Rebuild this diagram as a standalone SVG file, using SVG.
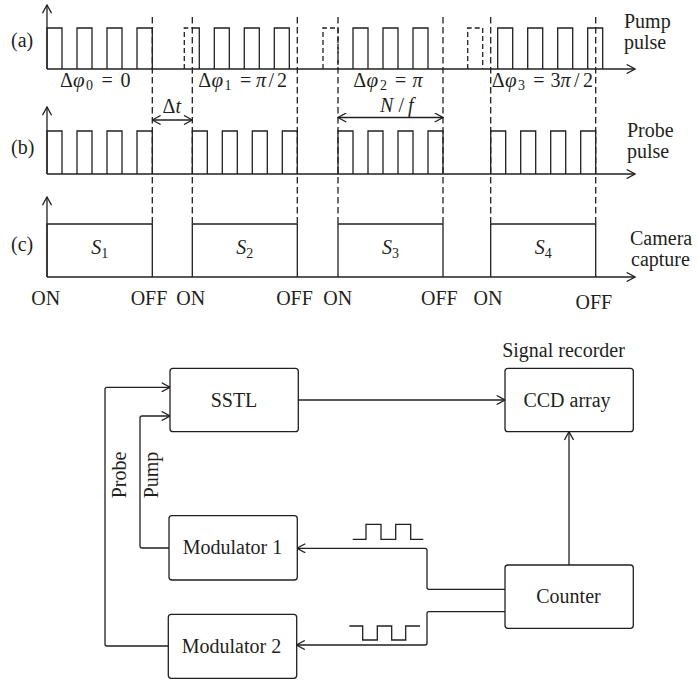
<svg xmlns="http://www.w3.org/2000/svg" width="698" height="682" viewBox="0 0 698 682">
<defs>
<style>
.ln{fill:none;stroke:#231f20;stroke-width:1.3}
.ds{fill:none;stroke:#231f20;stroke-width:1.3;stroke-dasharray:6.5 3.5}
.bx{fill:#fff;stroke:#231f20;stroke-width:1.3}
text{font-family:"Liberation Serif","DejaVu Serif",serif;font-size:20px;fill:#231f20}
.c{text-anchor:middle}
.i{font-style:italic}
.sub{font-size:14px}
.phi{font-style:italic;font-size:21px}
</style>
<marker id="arr" viewBox="0 0 10 10" refX="9.3" refY="5" markerWidth="10" markerHeight="10" orient="auto-start-reverse" markerUnits="userSpaceOnUse">
<path d="M1,0.5 L9.3,5 L1,9.5" fill="none" stroke="#231f20" stroke-width="1.3"/>
</marker>
</defs>
<rect width="698" height="682" fill="#fff"/>

<g id="timing">
<!-- axes -->
<path class="ln" d="M47,69 V5" marker-end="url(#arr)"/>
<path class="ln" d="M47,69 H635" marker-end="url(#arr)"/>
<path class="ln" d="M47,174 V107" marker-end="url(#arr)"/>
<path class="ln" d="M47,174 H635" marker-end="url(#arr)"/>
<path class="ln" d="M47,277 V197" marker-end="url(#arr)"/>
<path class="ln" d="M47,277 H635" marker-end="url(#arr)"/>

<!-- window dashed lines -->
<path class="ds" d="M152.3,17 V224 M192.3,17 V224 M297.3,17 V224 M338,17 V224 M443,17 V224 M490.7,17 V224 M595.7,17 V224"/>

<!-- pump pulses (a) -->
<path class="ln" d="M47,69 V28 H62 V69 M77,69 V28 H92 V69 M107,69 V28 H122 V69 M137,69 V28 H152.3 V69
M192.3,28 H199.3 V69 M214.3,69 V28 H229.3 V69 M244.3,69 V28 H259.3 V69 M274.3,69 V28 H289.3 V69
M353,69 V28 H368 V69 M383,69 V28 H398 V69 M413,69 V28 H428 V69
M497.7,69 V28 H512.7 V69 M527.7,69 V28 H542.7 V69 M557.7,69 V28 H572.7 V69 M587.7,69 V28 H602.7 V69"/>
<path class="ds" d="M184.3,69 V28 H192.3 M323,69 V28 H338 V69 M467.7,69 V28 H482.7 V69" style="stroke-dasharray:5 3"/>

<!-- probe pulses (b) -->
<path class="ln" d="M47,174 V131 H62 V174 M77,174 V131 H92 V174 M107,174 V131 H122 V174 M137,174 V131 H152.3 V174
M192.3,174 V131 H207.3 V174 M222.3,174 V131 H237.3 V174 M252.3,174 V131 H267.3 V174 M282.3,174 V131 H297.3 V174
M338,174 V131 H353 V174 M368,174 V131 H383 V174 M398,174 V131 H413 V174 M428,174 V131 H443 V174
M490.7,174 V131 H505.7 V174 M520.7,174 V131 H535.7 V174 M550.7,174 V131 H565.7 V174 M580.7,174 V131 H595.7 V174"/>

<!-- camera capture (c) -->
<path class="ln" d="M47,277 V224 H152.3 V277 M192.3,277 V224 H297.3 V277 M338,277 V224 H443 V277 M490.7,277 V224 H595.7 V277"/>

<!-- arrows dt, N/f -->
<path class="ln" d="M152.3,120 H192.3" marker-start="url(#arr)" marker-end="url(#arr)"/>
<path class="ln" d="M338,117.5 H443" marker-start="url(#arr)" marker-end="url(#arr)"/>

<!-- labels -->
<text x="11" y="47">(a)</text>
<text x="11" y="154">(b)</text>
<text x="11" y="251">(c)</text>
<text x="624" y="28">Pump</text>
<text x="624" y="49">pulse</text>
<text x="627" y="137">Probe</text>
<text x="627" y="158">pulse</text>
<text x="630" y="245">Camera</text>
<text x="631" y="266">capture</text>

<text y="87"><tspan x="60">Δ</tspan><tspan x="73" class="phi">φ</tspan><tspan x="86" dy="3" class="sub">0</tspan><tspan x="101.5" dy="-3">=</tspan><tspan x="120.5">0</tspan></text>
<text y="87"><tspan x="198.3">Δ</tspan><tspan x="211.5" class="phi">φ</tspan><tspan x="224.5" dy="3" class="sub">1</tspan><tspan x="240" dy="-3">=</tspan><tspan x="256" class="i">π</tspan><tspan x="268.5">/</tspan><tspan x="277">2</tspan></text>
<text y="87"><tspan x="353.3">Δ</tspan><tspan x="366.5" class="phi">φ</tspan><tspan x="380" dy="3" class="sub">2</tspan><tspan x="395" dy="-3">=</tspan><tspan x="412.5" class="i">π</tspan></text>
<text y="87"><tspan x="491.7">Δ</tspan><tspan x="505" class="phi">φ</tspan><tspan x="518" dy="3" class="sub">3</tspan><tspan x="533.3" dy="-3">=</tspan><tspan x="550.5">3</tspan><tspan x="560.5" class="i">π</tspan><tspan x="574">/</tspan><tspan x="583">2</tspan></text>

<text y="113"><tspan x="162.5">Δ</tspan><tspan class="i">t</tspan></text>
<text y="112" class="i"><tspan x="380">N</tspan><tspan x="398.5" style="font-style:normal">/</tspan><tspan x="408">f</tspan></text>

<text x="99.7" y="254" class="c"><tspan class="i">S</tspan><tspan class="sub" dy="4">1</tspan></text>
<text x="244.8" y="254" class="c"><tspan class="i">S</tspan><tspan class="sub" dy="4">2</tspan></text>
<text x="390.5" y="254" class="c"><tspan class="i">S</tspan><tspan class="sub" dy="4">3</tspan></text>
<text x="543.2" y="254" class="c"><tspan class="i">S</tspan><tspan class="sub" dy="4">4</tspan></text>

<text x="45.8" y="305" class="c">ON</text>
<text x="149" y="305" class="c">OFF</text>
<text x="190.8" y="305" class="c">ON</text>
<text x="294.5" y="305" class="c">OFF</text>
<text x="337.7" y="305" class="c">ON</text>
<text x="439.3" y="305" class="c">OFF</text>
<text x="488" y="305" class="c">ON</text>
<text x="593.8" y="308.5" class="c">OFF</text>
</g>

<g id="connectors">
<path class="ln" d="M168.5,646 H107 Q105,646 105,644 V389.3 Q105,387.3 107,387.3 H170" marker-end="url(#arr)"/>
<path class="ln" d="M169,548 H142 Q140,548 140,546 V418 Q140,416 142,416 H170" marker-end="url(#arr)"/>
<path class="ln" d="M298,400 H505" marker-end="url(#arr)"/>
<path class="ln" d="M569,565 V431.7" marker-end="url(#arr)"/>
<path class="ln" d="M505,589.3 H429 Q427,589.3 427,587.3 V550.3 Q427,548.3 425,548.3 H297" marker-end="url(#arr)"/>
<path class="ln" d="M505,611.7 H429 Q427,611.7 427,613.7 V643 Q427,645 425,645 H296.5" marker-end="url(#arr)"/>
<path class="ln" d="M352.7,539.3 H366 V524.3 H381 V539.3 H395.7 V524.3 H410.7 V539.3 H423.3"/>
<path class="ln" d="M349.3,626 H362.7 V640 H377.3 V626 H391.7 V640 H405.7 V626 H420"/>
<text x="118" y="475" class="c" transform="rotate(-90 125.5 475) translate(7.5 0)">Probe</text>
<text x="152" y="475" class="c" transform="rotate(-90 158 475) translate(6 0)">Pump</text>
</g>

<g id="sstl">
<rect class="bx" x="170" y="368.3" width="128.3" height="63.4" rx="3"/>
<text x="234" y="407" class="c">SSTL</text>
</g>
<g id="ccd">
<text x="563.5" y="357" class="c">Signal recorder</text>
<rect class="bx" x="505" y="368.3" width="128.3" height="63.4" rx="3"/>
<text x="567" y="407" class="c">CCD array</text>
</g>
<g id="modulator1">
<rect class="bx" x="169" y="515.7" width="128.3" height="64.3" rx="3"/>
<text x="232.5" y="554" class="c">Modulator 1</text>
</g>
<g id="modulator2">
<rect class="bx" x="168.3" y="614.3" width="128.4" height="64" rx="3"/>
<text x="231.5" y="653" class="c">Modulator 2</text>
</g>
<g id="counter">
<rect class="bx" x="505" y="565" width="128.3" height="63.3" rx="3"/>
<text x="568.5" y="603.3" class="c">Counter</text>
</g>
</svg>
